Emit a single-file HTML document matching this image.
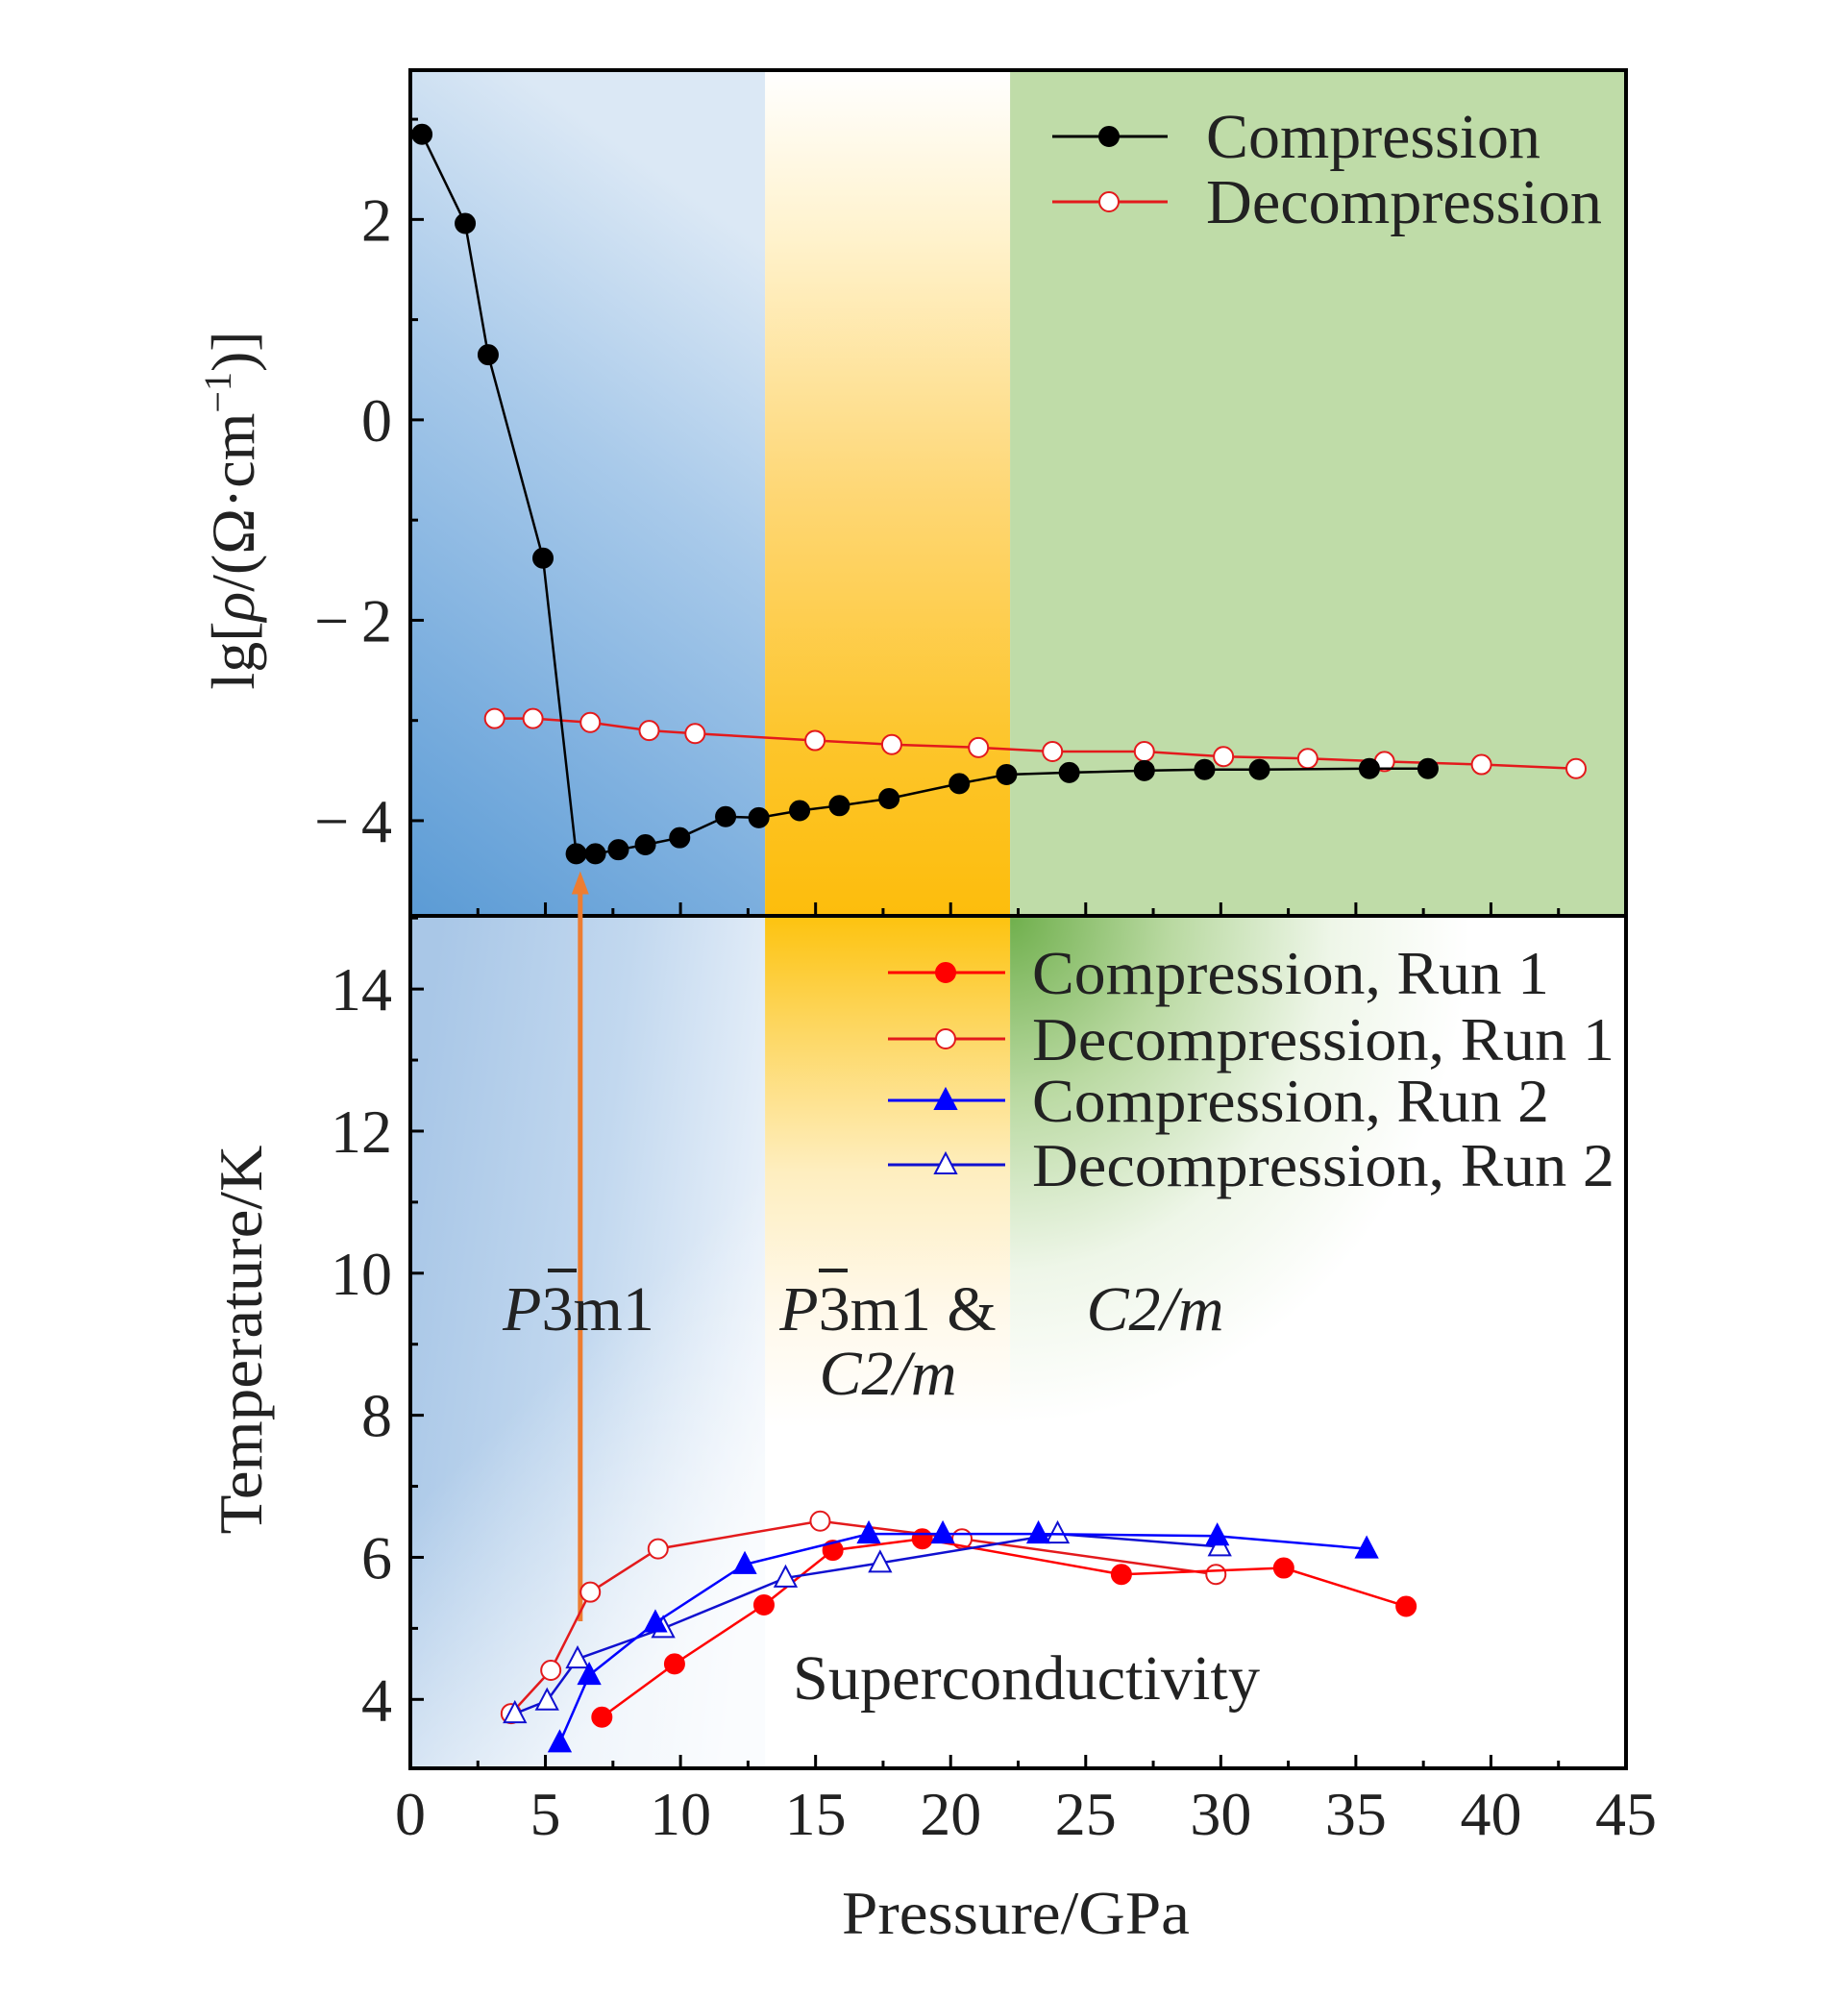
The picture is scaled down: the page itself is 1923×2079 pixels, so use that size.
<!DOCTYPE html>
<html><head><meta charset="utf-8">
<style>
html,body{margin:0;padding:0;background:#fff;}
svg{display:block;}
text{font-family:"Liberation Serif",serif;fill:#222;}
</style></head>
<body>
<svg id="chart" width="1923" height="2079" viewBox="0 0 1923 2079" xmlns="http://www.w3.org/2000/svg">
<defs>
 <linearGradient id="gBlueTop" x1="0.3" y1="0" x2="0" y2="1">
  <stop offset="0" stop-color="#dbe8f5"/><stop offset="0.35" stop-color="#a9caea"/><stop offset="0.7" stop-color="#7eb0df"/><stop offset="1" stop-color="#5b9bd5"/>
 </linearGradient>
 <linearGradient id="gYellowTop" x1="0" y1="0" x2="0" y2="1">
  <stop offset="0" stop-color="#ffffff"/><stop offset="0.2" stop-color="#fff2cc"/><stop offset="0.5" stop-color="#fed775"/><stop offset="0.8" stop-color="#fdc52a"/><stop offset="1" stop-color="#fdbd0c"/>
 </linearGradient>
 <linearGradient id="gBlueBot" x1="0" y1="0.3" x2="1" y2="0.6">
  <stop offset="0" stop-color="#a9c7e7"/><stop offset="0.5" stop-color="#c2d8ef"/><stop offset="1" stop-color="#eef4fb"/>
 </linearGradient>
 <linearGradient id="gBlueBotV" x1="0" y1="0" x2="0.4" y2="1">
  <stop offset="0.6" stop-color="#ffffff" stop-opacity="0"/><stop offset="1" stop-color="#ffffff" stop-opacity="0.7"/>
 </linearGradient>
 <linearGradient id="gYellowBot" x1="0" y1="0" x2="0" y2="1">
  <stop offset="0" stop-color="#fdc30f"/><stop offset="0.12" stop-color="#fdd55a"/><stop offset="0.3" stop-color="#feeebf"/><stop offset="0.45" stop-color="#fff8e8"/><stop offset="0.6" stop-color="#ffffff"/>
 </linearGradient>
 <radialGradient id="gGreenBot" cx="1050" cy="953" r="480" gradientUnits="userSpaceOnUse" gradientTransform="translate(1050 953) scale(1 1.1) translate(-1050 -953)">
  <stop offset="0" stop-color="#6faf4c"/><stop offset="0.35" stop-color="#b9d9a1"/><stop offset="0.7" stop-color="#eef6e8"/><stop offset="1" stop-color="#ffffff"/>
 </radialGradient>
</defs>
<g id="bg"></g>
<g id="axes"></g>
<g id="marks"></g>
<g id="labels"></g>
</svg>
<script>
// ---- data ----
const topCompP = [0.43,2.03,2.88,4.91,6.14,6.85,7.7,8.7,9.97,11.67,12.9,14.41,15.88,17.72,20.32,22.07,24.39,27.17,29.4,31.43,35.5,37.67];
const topCompR = [2.85,1.96,0.65,-1.38,-4.33,-4.33,-4.29,-4.24,-4.17,-3.96,-3.97,-3.9,-3.85,-3.78,-3.63,-3.54,-3.52,-3.5,-3.49,-3.49,-3.48,-3.48];
const topDecP = [3.12,4.54,6.66,8.84,10.54,14.98,17.82,21.03,23.77,27.17,30.1,33.22,36.06,39.65,43.15];
const topDecR = [-2.98,-2.98,-3.02,-3.1,-3.13,-3.2,-3.24,-3.27,-3.31,-3.31,-3.36,-3.38,-3.41,-3.44,-3.48];
const c1P = [7.09,9.78,13.09,15.64,18.95,26.32,32.33,36.86];
const c1T = [3.75,4.5,5.33,6.1,6.26,5.76,5.85,5.31];
const d1P = [3.73,5.2,6.66,9.17,15.17,20.42,29.82];
const d1T = [3.8,4.41,5.51,6.12,6.51,6.26,5.76];
const c2P = [5.53,6.62,9.07,12.38,16.97,19.71,23.25,29.87,35.4];
const c2T = [3.39,4.34,5.08,5.9,6.33,6.33,6.33,6.3,6.12];
const d2P = [3.87,5.06,6.19,9.36,13.89,17.39,23.96,29.96];
const d2T = [3.8,3.98,4.57,5.0,5.71,5.92,6.33,6.15];
const xTicks = [0,5,10,15,20,25,30,35,40,45];
const topYTicks = [2,0,-2,-4];
const topYLabels = ["2","0","\u2212\u20092","\u2212\u20094"];
const botYTicks = [4,6,8,10,12,14];
const phaseEdges = [13.13,22.2];
const arrowP = 6.29;

// ---- scales ----
const L=427,R=1692,T=73,MID=953,B=1840;
const X=p=>L+(p-0)/(45-0)*(R-L);
const Yt=v=>T+(3.49-v)/(3.49-(-4.95))*(MID-T);
const Yb=v=>MID+(15.03-v)/(15.03-3.03)*(B-MID);
const NS="http://www.w3.org/2000/svg";
function mk(tag,attrs,parent){const e=document.createElementNS(NS,tag);for(const k in attrs)e.setAttribute(k,attrs[k]);parent.appendChild(e);return e;}
const bg=document.getElementById('bg'),ax=document.getElementById('axes'),mg=document.getElementById('marks'),lg=document.getElementById('labels');

// ---- backgrounds ----
const e1=X(phaseEdges[0]),e2=X(phaseEdges[1]);
let r;
r=mk('rect',{x:L,y:T,width:e1-L,height:MID-T,fill:'url(#gBlueTop)'},bg);


r=mk('rect',{x:e1,y:T,width:e2-e1,height:MID-T,fill:'url(#gYellowTop)'},bg);


r=mk('rect',{x:e2,y:T,width:R-e2,height:MID-T,fill:'#bfdca8'},bg);


r=mk('rect',{x:L,y:MID,width:e1-L,height:B-MID,fill:'url(#gBlueBot)'},bg);


r=mk('rect',{x:L,y:MID,width:e1-L,height:B-MID,fill:'url(#gBlueBotV)'},bg);


r=mk('rect',{x:e1,y:MID,width:e2-e1,height:B-MID,fill:'url(#gYellowBot)'},bg);


r=mk('rect',{x:e2,y:MID,width:R-e2,height:B-MID,fill:'url(#gGreenBot)'},bg);



// ---- axes / ticks ----
let a;
a=mk('rect',{x:L,y:T,width:R-L,height:B-T,fill:'none',stroke:'#000','stroke-width':4},ax);


a=mk('line',{x1:L,y1:MID,x2:R,y2:MID,stroke:'#000','stroke-width':4},ax);


for(let p=2.5;p<45;p+=2.5){
  const major=(p%5===0), len=major?14:8;
  [MID,B].forEach(yb=>{
    const t=mk('line',{x1:X(p),y1:yb,x2:X(p),y2:yb-len,stroke:'#000','stroke-width':3},ax);
    
    
  });
}
for(let v=-4;v<=3;v++){
  const t=mk('line',{x1:L,y1:Yt(v),x2:L+(v%2===0?14:8),y2:Yt(v),stroke:'#000','stroke-width':3},ax);
  
  
}
for(let v=4;v<=15;v++){
  const t=mk('line',{x1:L,y1:Yb(v),x2:L+(v%2===0?14:8),y2:Yb(v),stroke:'#000','stroke-width':3},ax);
  
  
}
xTicks.forEach(p=>{
  const t=mk('text',{x:X(p),y:1909,'font-size':64,'text-anchor':'middle'},ax);
  t.textContent=String(p);
  
  
});
topYTicks.forEach((v,i)=>{
  const t=mk('text',{x:408,y:Yt(v)+22,'font-size':64,'text-anchor':'end'},ax);
  t.textContent=topYLabels[i];
  
  
});
botYTicks.forEach(v=>{
  const t=mk('text',{x:408,y:Yb(v)+22,'font-size':64,'text-anchor':'end'},ax);
  t.textContent=String(v);
  
  
});

// ---- arrow ----
a=mk('line',{x1:X(arrowP),y1:Yb(5.1),x2:X(arrowP),y2:Yt(-4.6),stroke:'#ed7d31','stroke-width':5},mg);


a=mk('polygon',{points:`${X(arrowP)-9},${Yt(-4.6)+14} ${X(arrowP)+9},${Yt(-4.6)+14} ${X(arrowP)},${Yt(-4.6)-10}`,fill:'#ed7d31'},mg);



// ---- series ----
function marker(g,shape,filled,color,cx,cy){
  let m;
  const fill=filled?color:'#fff';
  if(shape==='c'){m=mk('circle',{cx:cx,cy:cy,r:10,fill:fill,stroke:color,'stroke-width':2},g);}
  else{m=mk('polygon',{points:`${cx-11},${cy+9} ${cx+11},${cy+9} ${cx},${cy-12}`,fill:fill,stroke:color,'stroke-width':2},g);}
  return m;
}
function series(name,P,V,ys,color,shape,filled,w){
  const g=mk('g',{},mg);
  
  
  const pl=mk('polyline',{points:P.map((p,i)=>X(p)+','+ys(V[i])).join(' '),fill:'none',stroke:color,'stroke-width':w},g);
  
  
  P.forEach((p,i)=>{
    const m=marker(g,shape,filled,color,X(p),ys(V[i]));
    
    
  });
}
series('top-decompression',topDecP,topDecR,Yt,'#e31a1c','c',false,2.5);
series('top-compression',topCompP,topCompR,Yt,'#000','c',true,2.5);
series('decompression-run1',d1P,d1T,Yb,'#e31a1c','c',false,2.5);
series('compression-run1',c1P,c1T,Yb,'#ff0000','c',true,2.5);
series('decompression-run2',d2P,d2T,Yb,'#1010d0','t',false,2.5);
series('compression-run2',c2P,c2T,Yb,'#0000ff','t',true,2.5);

// ---- legends ----
function legendEntry(name,x1,x2,xm,y,color,shape,filled,label,tx,fs,tl){
  const g=mk('g',{},lg);
  
  
  mk('line',{x1:x1,y1:y,x2:x2,y2:y,stroke:color,'stroke-width':3},g);
  marker(g,shape,filled,color,xm,y);
  const t=mk('text',{x:tx,y:y+22,'font-size':fs,textLength:tl,lengthAdjust:'spacingAndGlyphs'},g);
  t.textContent=label;
}
legendEntry('legend-top-compression',1095,1215,1154,142,'#000','c',true,'Compression',1255,66,348);
legendEntry('legend-top-decompression',1095,1215,1154,210,'#e31a1c','c',false,'Decompression',1255,66,412);
legendEntry('legend-compression-run1',924,1046,984,1012,'#ff0000','c',true,'Compression, Run 1',1074,64,538);
legendEntry('legend-decompression-run1',924,1046,984,1081,'#e31a1c','c',false,'Decompression, Run 1',1074,64,606);
legendEntry('legend-compression-run2',924,1046,984,1145,'#0000ff','t',true,'Compression, Run 2',1074,64,538);
legendEntry('legend-decompression-run2',924,1046,984,1212,'#1010d0','t',false,'Decompression, Run 2',1074,64,606);
</script>
<div style="position:absolute;left:0;top:0;width:1923px;height:2079px;pointer-events:none;">
<svg width="1923" height="2079" viewBox="0 0 1923 2079" xmlns="http://www.w3.org/2000/svg" style="position:absolute;left:0;top:0">
 <text x="1057" y="2012" font-size="64" text-anchor="middle" textLength="362" lengthAdjust="spacingAndGlyphs">Pressure/GPa</text>
 <text transform="translate(264,531) rotate(-90)" font-size="64" text-anchor="middle">lg[<tspan font-style="italic">ρ</tspan>/(Ω·cm<tspan font-size="40" dy="-24">−1</tspan><tspan dy="24">)]</tspan></text>
 <text transform="translate(272,1394) rotate(-90)" font-size="64" text-anchor="middle" textLength="405" lengthAdjust="spacingAndGlyphs">Temperature/K</text>
 <text x="602" y="1384" font-size="66" text-anchor="middle"><tspan font-style="italic">P</tspan>3m1</text>
 <line x1="570" y1="1322" x2="600" y2="1322" stroke="#222" stroke-width="4"/>
 <text x="924" y="1384" font-size="66" text-anchor="middle"><tspan font-style="italic">P</tspan>3m1 &amp;</text>
 <line x1="852" y1="1322" x2="882" y2="1322" stroke="#222" stroke-width="4"/>
 <text x="924" y="1451" font-size="66" text-anchor="middle" font-style="italic">C2/m</text>
 <text x="1202" y="1384" font-size="66" text-anchor="middle" font-style="italic">C2/m</text>
 <text x="1068" y="1768" font-size="66" text-anchor="middle" textLength="486" lengthAdjust="spacingAndGlyphs">Superconductivity</text>
</svg>
</div>
</body></html>
